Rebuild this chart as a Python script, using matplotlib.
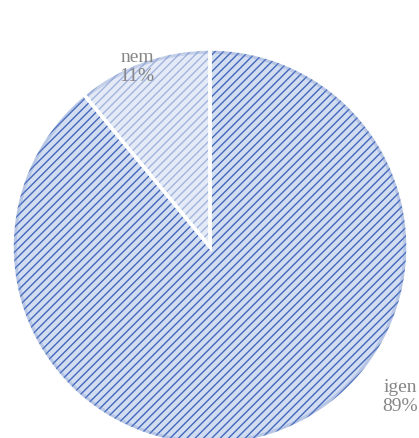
import matplotlib
matplotlib.use("Agg")
import matplotlib.pyplot as plt
from matplotlib.patches import Circle

categories = ["igen", "nem"]
values = [89, 11]
pct_labels = ["89%", "11%"]

face_colors = ["#d3ddf1", "#e4eaf6"]
hatch_colors = ["#4268bb", "#a2b4de"]

plt.rcParams["hatch.linewidth"] = 1.0

W, H = 419, 439
fig = plt.figure(figsize=(W / 100, H / 100), dpi=100)
ax = fig.add_axes([0, 0, 1, 1])

cx, cy, r = 210, H - 248, 198
# fill + hatch
wedges, _ = ax.pie(values, startangle=90, counterclock=False, center=(cx, cy), radius=r,
                   frame=True, wedgeprops=dict(linewidth=0))
for w, fc, hc in zip(wedges, face_colors, hatch_colors):
    w.set_facecolor(fc)
    w.set_edgecolor(hc)
    w.set_linewidth(0)
    w.set_hatch("////")
# soft rim shading (outer circle only)
ax.add_patch(Circle((cx, cy), r - 2, fill=False, linewidth=4, edgecolor="#7891cc", alpha=0.3))
# white separators
sep, _ = ax.pie(values, startangle=90, counterclock=False, center=(cx, cy), radius=r,
                frame=True, wedgeprops=dict(linewidth=2.5, edgecolor="white", fill=False))

ax.set_xlim(0, W)
ax.set_ylim(0, H)
ax.set_aspect("equal")
ax.axis("off")

# labels
label_pos = {"igen": (400, H - 397), "nem": (137, H - 67)}
for cat, pct in zip(categories, pct_labels):
    x, y = label_pos[cat]
    ax.text(x, y, f"{cat}\n{pct}", ha="center", va="center", color="#868686",
            fontsize=14, family="Liberation Serif", linespacing=1.2)

fig.savefig("out.png", dpi=100)
